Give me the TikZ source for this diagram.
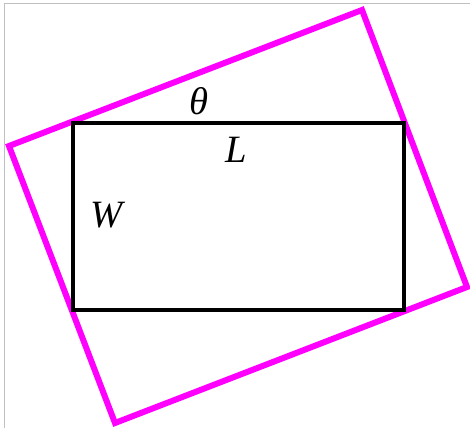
\documentclass[tikz,border=0pt]{standalone}
\usepackage{fontspec}
\setmainfont{Liberation Serif}
\usepackage{xcolor}
\definecolor{frmgray}{RGB}{192,192,192}
\definecolor{rotmag}{RGB}{255,0,255}

\begin{document}
\begin{tikzpicture}[x=0.75pt, y=-0.75pt, font=\fontsize{29}{32}\selectfont\itshape]
    \useasboundingbox (0,0) rectangle (470,428);
    % frame lines
    \draw[frmgray, line width=0.75pt] (4.5,428) -- (4.5,3.5) -- (470,3.5);
    % rotated box
    \draw[rotmag, line width=4.5pt] (9,146) -- (362,10) -- (467,287) -- (115,423) -- cycle;
    % fixed box
    \draw[black, line width=3pt] (73,123) rectangle (404,310);
    \node[inner sep=0pt] (theta) at (199,101) {θ};
    \node[inner sep=0pt] (len) at (236,150) {L};
    \node[inner sep=0pt] (wid) at (107,215) {W};
\end{tikzpicture}
\end{document}
